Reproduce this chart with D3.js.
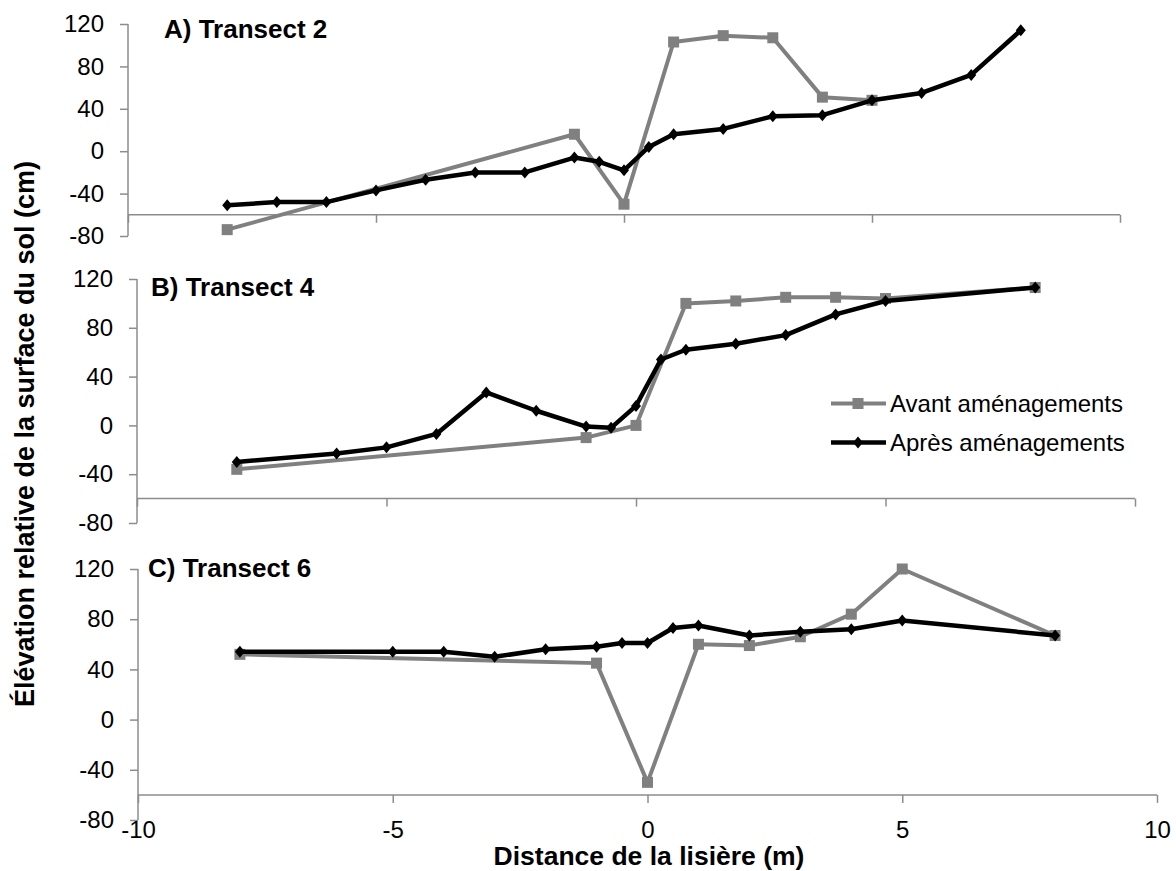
<!DOCTYPE html>
<html><head><meta charset="utf-8">
<script src="https://cdn.jsdelivr.net/npm/d3@7"></script>
<style>
html,body{margin:0;padding:0;background:#fff;}
svg text{font-family:Arial,"Liberation Sans",sans-serif;}
</style></head>
<body><svg id="chart" width="1176" height="871"></svg>
<script>
// ---- data ----
const xTicks = [-10, -5, 0, 5, 10];
const yTicks = [-80, -40, 0, 40, 80, 120];
const seriesNames = ["Avant aménagements", "Après aménagements"];
const panelTitles = ["A) Transect 2", "B) Transect 4", "C) Transect 6"];

const aAvantX = [-8, -1, 0, 1, 2, 3, 4, 5];
const aAvantY = [-74, 16, -50, 103, 109, 107, 51, 48];
const aApresX = [-8, -7, -6, -5, -4, -3, -2, -1, -0.5, 0, 0.5, 1, 2, 3, 4, 5, 6, 7, 8];
const aApresY = [-51, -48, -48, -37, -27, -20, -20, -6, -10, -18, 4, 16, 21, 33, 34, 48, 55, 72, 114];

const bAvantX = [-8, -1, 0, 1, 2, 3, 4, 5, 8];
const bAvantY = [-36, -10, 0, 100, 102, 105, 105, 104, 113];
const bApresX = [-8, -6, -5, -4, -3, -2, -1, -0.5, 0, 0.5, 1, 2, 3, 4, 5, 8];
const bApresY = [-30, -23, -18, -7, 27, 12, -1, -2, 16, 54, 62, 67, 74, 91, 102, 113];

const cAvantX = [-8, -1, 0, 1, 2, 3, 4, 5, 8];
const cAvantY = [52, 45, -50, 60, 59, 66, 84, 120, 67];
const cApresX = [-8, -5, -4, -3, -2, -1, -0.5, 0, 0.5, 1, 2, 3, 4, 5, 8];
const cApresY = [54, 54, 54, 50, 56, 58, 61, 61, 73, 75, 67, 70, 72, 79, 67];

// ---- layout ----
const panels = [
  {title: panelTitles[0], avX: aAvantX, avY: aAvantY, apX: aApresX, apY: aApresY,
   xr: [128, 1120], yr: [236, 24], titleX: 164, titleY: 38, labels: false},
  {title: panelTitles[1], avX: bAvantX, avY: bAvantY, apX: bApresX, apY: bApresY,
   xr: [137, 1135], yr: [523, 279], titleX: 151, titleY: 296, labels: false},
  {title: panelTitles[2], avX: cAvantX, avY: cAvantY, apX: cApresX, apY: cApresY,
   xr: [138, 1157], yr: [820, 569], titleX: 148, titleY: 577, labels: true}
];

const svg = d3.select("#chart");
const axisCol = "#8c8c8c";
const grayCol = "#808080";
const fs = 24;
const fmt = d => String(d);

function square(g, x, y, s, col){
  g.append("rect").attr("x", x - s/2).attr("y", y - s/2).attr("width", s).attr("height", s).attr("fill", col);
}
function diamond(g, x, y, w, h, col){
  g.append("path").attr("d", `M${x},${y-h/2}L${x+w/2},${y}L${x},${y+h/2}L${x-w/2},${y}Z`).attr("fill", col);
}

panels.forEach(p => {
  const x = d3.scaleLinear().domain([-10, 10]).range(p.xr);
  const y = d3.scaleLinear().domain([-80, 120]).range(p.yr);
  const g = svg.append("g");

  // y axis
  const ya = g.append("g").attr("transform", `translate(${p.xr[0]},0)`)
    .call(d3.axisLeft(y).tickValues(yTicks).tickSize(8).tickPadding(16).tickFormat(fmt));
  ya.select(".domain").attr("stroke", axisCol).attr("stroke-width", 1.5).attr("d", `M0,${y(120)}V${y(-80)}`);
  ya.selectAll(".tick line").attr("stroke", axisCol).attr("stroke-width", 1.5);
  ya.selectAll(".tick text").attr("fill", "#000").attr("font-size", fs)
    .attr("font-family", "Arial,'Liberation Sans',sans-serif");

  // x axis crossing at -60
  const xa = g.append("g").attr("transform", `translate(0,${y(-60)})`)
    .call(d3.axisBottom(x).tickValues(xTicks).tickSize(8).tickFormat(fmt));
  xa.select(".domain").attr("stroke", axisCol).attr("stroke-width", 1.5).attr("d", `M${p.xr[0]},0H${p.xr[1]}`);
  xa.selectAll(".tick line").attr("stroke", axisCol).attr("stroke-width", 1.5);
  if (p.labels) {
    xa.selectAll(".tick text").attr("fill", "#000").attr("font-size", fs)
      .attr("font-family", "Arial,'Liberation Sans',sans-serif")
      .attr("y", 0).attr("dy", null)
      .attr("transform", `translate(0,${y(-80) + 17.5 - y(-60)})`);
  } else {
    xa.selectAll(".tick text").remove();
  }

  const line = d3.line().x(d => x(d[0])).y(d => y(d[1]));
  const av = p.avX.map((v, i) => [v, p.avY[i]]);
  const ap = p.apX.map((v, i) => [v, p.apY[i]]);

  g.append("path").datum(av).attr("d", line).attr("fill", "none")
    .attr("stroke", grayCol).attr("stroke-width", 4).attr("stroke-linejoin", "round");
  av.forEach(d => square(g, x(d[0]), y(d[1]), 11, grayCol));

  g.append("path").datum(ap).attr("d", line).attr("fill", "none")
    .attr("stroke", "#000").attr("stroke-width", 4.5).attr("stroke-linejoin", "round");
  ap.forEach(d => diamond(g, x(d[0]), y(d[1]), 10, 12, "#000"));

  g.append("text").attr("x", p.titleX).attr("y", p.titleY).attr("font-size", 26)
    .attr("font-weight", "bold").text(p.title);
});

// legend
const leg = svg.append("g");
const legItems = [
  {name: seriesNames[0], col: grayCol, y: 403.5, kind: "sq"},
  {name: seriesNames[1], col: "#000", y: 442.5, kind: "di"}
];
legItems.forEach(it => {
  leg.append("line").attr("x1", 831).attr("x2", 886).attr("y1", it.y).attr("y2", it.y)
    .attr("stroke", it.col).attr("stroke-width", it.kind === "sq" ? 4 : 4.5);
  if (it.kind === "sq") square(leg, 858, it.y, 11, it.col);
  else diamond(leg, 858, it.y, 10, 12, it.col);
  leg.append("text").attr("x", 890).attr("y", it.y + 8.5)
    .attr("font-size", fs).text(it.name);
});

// axis titles
svg.append("text").attr("transform", "translate(34,434) rotate(-90)")
  .attr("text-anchor", "middle").attr("font-size", 27).attr("font-weight", "bold")
  .text("Élévation relative de la surface du sol (cm)");
svg.append("text").attr("x", 649).attr("y", 865).attr("text-anchor", "middle")
  .attr("font-size", 26.5).attr("font-weight", "bold").text("Distance de la lisière (m)");
</script></body></html>
